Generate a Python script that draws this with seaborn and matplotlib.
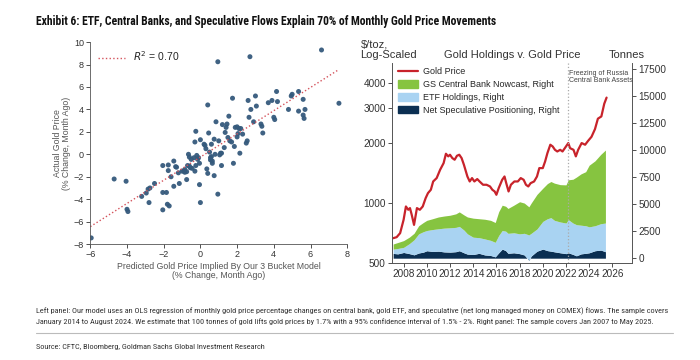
import numpy as np
import pandas as pd
import seaborn as sns
import matplotlib.pyplot as plt
from matplotlib.lines import Line2D
from matplotlib.patches import Patch

# left panel: predicted vs actual monthly % change
pred_chg = [-5.95, -4.7, -4.05, -4.0, -3.95, -3.2, -2.95, -2.85, -2.75, -2.8, -2.5, -2.05, -2.05, -1.85,
            -2.05, -1.8, -1.7, -1.75, -1.75, -1.6, -1.45, -1.35, -1.3, -1.45, -1.15, -1.2, -1.0, -0.9,
            -0.85, -0.85, -0.75, -0.7, -0.65, -0.6, -0.55, -0.5, -0.45, -0.35, -0.3, -0.25, -0.2, -0.15,
            -0.1, -0.05, -0.3, -0.25, -0.75, -0.05, 0.0, 0.0, 0.2, 0.25, 0.3, 0.35, 0.4, 0.4, 0.45, 0.5,
            0.55, 0.6, 0.65, 0.65, 0.6, 0.75, 0.75, 0.8, 0.85, 0.95, 0.95, 1.0, 1.05, 1.1, 1.15, 1.2,
            1.3, 1.35, 1.4, 1.45, 1.5, 1.55, 1.6, 1.7, 1.75, 1.8, 1.85, 1.9, 2.0, 2.05, 2.1, 2.15, 2.2,
            2.3, 2.5, 2.55, 2.6, 2.65, 2.7, 2.75, 2.9, 3.0, 3.05, 3.3, 3.35, 3.4, 3.7, 3.9, 4.0, 4.05,
            4.15, 4.2, 4.8, 4.95, 5.0, 5.35, 5.35, 5.6, 5.6, 5.65, 5.7, 6.6, 7.55, -0.6, 1.15, 0.55, 2.0]
actual_chg = [-7.45, -2.2, -2.4, -4.9, -5.1, -3.75, -3.45, -3.1, -3.0, -4.3, -2.6, -1.0, -3.4, -3.4,
              -4.95, -4.45, -4.6, -0.95, -1.45, -2.0, -0.6, -1.1, -1.15, -2.85, -2.6, -1.65, -1.5, -1.5,
              -1.35, -1.6, -1.55, -1.0, 0.0, -0.25, -1.2, -0.45, -1.25, -0.3, 1.1, 2.05, -0.1, -0.45,
              -0.3, -0.8, -1.5, -1.0, -2.25, -2.7, -4.3, 1.3, 0.9, 0.8, 0.5, -1.3, -1.7, 4.4, 1.9, 0.2,
              -0.5, -0.2, -0.6, -0.8, 0.9, 1.35, -1.9, 0.0, 2.9, 8.25, -3.55, 1.2, -0.05, 0.1, -1.0, 2.65,
              0.6, 1.95, 2.4, 2.7, 1.5, 3.4, 1.2, 1.1, 5.0, -0.8, 0.7, 2.4, 2.45, 1.85, 2.3, 0.1, 2.3,
              1.8, 1.0, 1.2, 4.8, 3.3, 8.7, 4.0, 2.9, 5.2, 4.3, 2.7, 2.5, 1.9, 4.6, 4.8, 3.3, 3.1,
              5.6, 4.7, 4.0, 5.2, 5.35, 5.6, 3.85, 4.9, 3.5, 3.2, 4.0, 9.3, 4.55, -1.05, 0.1, -0.3, 1.55]

# right panel: gold price (log scale)
price_year = [2007.1, 2007.4, 2007.7, 2008.0, 2008.2, 2008.4, 2008.55, 2008.7, 2008.9, 2009.15, 2009.4,
              2009.65, 2009.9, 2010.1, 2010.35, 2010.55, 2010.85, 2011.15, 2011.45, 2011.65, 2011.85,
              2012.0, 2012.2, 2012.4, 2012.6, 2012.8, 2013.0, 2013.2, 2013.5, 2013.7, 2013.9, 2014.1,
              2014.35, 2014.55, 2014.85, 2015.15, 2015.45, 2015.65, 2015.85, 2016.0, 2016.2, 2016.5,
              2016.7, 2016.85, 2017.05, 2017.25, 2017.55, 2017.85, 2018.1, 2018.35, 2018.55, 2018.75,
              2018.95, 2019.25, 2019.5, 2019.7, 2020.0, 2020.2, 2020.4, 2020.65, 2020.85, 2021.05,
              2021.25, 2021.5, 2021.7, 2021.9, 2022.2, 2022.35, 2022.65, 2022.85, 2023.05, 2023.35,
              2023.65, 2023.9, 2024.2, 2024.5, 2024.75, 2025.05, 2025.3, 2025.5]
gold_price = [667, 675, 707, 825, 962, 926, 944, 874, 778, 944, 926, 962, 1059, 1122, 1167, 1284, 1335,
              1470, 1587, 1768, 1715, 1748, 1682, 1650, 1727, 1748, 1682, 1557, 1360, 1284, 1335, 1284,
              1320, 1284, 1236, 1236, 1212, 1167, 1144, 1101, 1189, 1309, 1360, 1259, 1144, 1236, 1284,
              1284, 1335, 1309, 1236, 1212, 1259, 1284, 1360, 1498, 1498, 1617, 1782, 1962, 1924, 1850,
              1815, 1850, 1815, 1886, 2000, 1886, 1850, 1715, 1850, 2000, 1962, 2050, 2150, 2350, 2650,
              2720, 3150, 3380]

# right panel: holdings in tonnes
hold_year = [2007.1, 2007.5, 2008.0, 2008.5, 2008.9, 2009.3, 2009.7, 2010.0, 2010.5, 2011.0, 2011.5,
             2012.0, 2012.5, 2012.8, 2013.2, 2013.5, 2014.0, 2014.5, 2015.0, 2015.5, 2015.9, 2016.2,
             2016.5, 2016.8, 2017.0, 2017.5, 2018.0, 2018.4, 2018.8, 2019.0, 2019.5, 2020.0, 2020.4,
             2020.7, 2021.0, 2021.5, 2022.0, 2022.2, 2022.6, 2022.9, 2023.3, 2023.7, 2024.0, 2024.5,
             2025.0, 2025.4]
net_spec = [440, 400, 530, 420, 310, 480, 560, 690, 620, 650, 580, 560, 600, 690, 500, 375, 340, 450,
            300, 250, 125, 500, 840, 700, 450, 500, 420, 300, -190, 200, 650, 840, 700, 650, 590, 500,
            420, 500, 350, 220, 400, 450, 500, 690, 750, 600]
etf_hold = [400, 500, 470, 930, 1390, 1770, 1890, 1870, 2030, 2070, 2200, 2250, 2250, 2250, 2100, 1875,
            1600, 1450, 1480, 1400, 1345, 1600, 1720, 1800, 1850, 1850, 1830, 2000, 2340, 2100, 2050,
            2560, 2950, 3100, 2910, 2850, 2830, 3060, 2900, 2880, 2650, 2550, 2400, 2310, 2440, 2650]
cb_hold = [470, 550, 625, 600, 600, 750, 850, 940, 1000, 1090, 1120, 1160, 1250, 1340, 1400, 1560, 1760,
           1750, 1820, 1850, 1830, 2200, 2340, 2300, 2300, 2550, 2970, 2800, 2600, 2800, 3200, 3070,
           3250, 3340, 3440, 3450, 3530, 3690, 4050, 4400, 4750, 5000, 5700, 6000, 6410, 6750]

title = "Exhibit 6: ETF, Central Banks, and Speculative Flows Explain 70% of Monthly Gold Price Movements"
note = ("Left panel: Our model uses an OLS regression of monthly gold price percentage changes on central bank, gold ETF, "
        "and speculative (net long managed money on COMEX) flows. The sample covers\n"
        "January 2014 to August 2024. We estimate that 100 tonnes of gold lifts gold prices by 1.7% with a 95% "
        "confidence interval of 1.5% - 2%. Right panel: The sample covers Jan 2007 to May 2025.")
source = "Source: CFTC, Bloomberg, Goldman Sachs Global Investment Research"

sns.set_style("ticks")
plt.rcParams['font.family'] = ['Liberation Sans', 'DejaVu Sans']
narrow = ['Roboto Condensed', 'Liberation Sans Narrow', 'Liberation Sans']
txt = '#333333'

fig = plt.figure(figsize=(7, 3.6), dpi=100)
t_title = fig.text(0.051, 0.93, title, fontsize=9.6, fontweight='bold', family=narrow, color='#111111')

# ---- left panel
ax1 = fig.add_axes([0.129, 0.322, 0.367, 0.561])
scat = pd.DataFrame({'pred': pred_chg, 'actual': actual_chg})
sns.scatterplot(data=scat, x='pred', y='actual', ax=ax1, color='#355a7c', s=13, edgecolor='none', alpha=0.95)
slope, icpt = np.polyfit(scat['pred'], scat['actual'], 1)
fx = np.array([-6, 7.55])
ax1.plot(fx, slope * fx + icpt, ls=':', color='#d4535c', lw=1.0)
ax1.legend(handles=[Line2D([], [], ls=':', color='#d4535c', lw=1.0)], labels=['$R^2$ = 0.70'],
           loc='upper left', frameon=False, fontsize=7.5, handlelength=2.6, borderaxespad=0.3)
ax1.set_xlim(-6, 8)
ax1.set_ylim(-8, 10)
ax1.set_xticks(range(-6, 9, 2))
ax1.set_yticks(range(-8, 11, 2))
ax1.set_xlabel("Predicted Gold Price Implied By Our 3 Bucket Model\n(% Change, Month Ago)", fontsize=6.3,
               color='#555555', labelpad=2, linespacing=1.0)
ax1.set_ylabel("Actual Gold Price\n(% Change, Month Ago)", fontsize=6.3, color='#555555', labelpad=2, linespacing=1.0)
ax1.tick_params(labelsize=6.5, colors=txt, length=3, width=0.6, pad=1.5)
for s in ['left', 'bottom']:
    ax1.spines[s].set_color('#555555')
    ax1.spines[s].set_linewidth(0.6)
sns.despine(ax=ax1)

# ---- right panel
ax2 = fig.add_axes([0.56, 0.269, 0.343, 0.556])
ax3 = ax2.twinx()
ax2.set_zorder(ax3.get_zorder() + 1)
ax2.patch.set_visible(False)

ax3.stackplot(hold_year, net_spec, etf_hold, cb_hold, colors=['#0b2f52', '#a9d3f2', '#86c440'], lw=0)
sns.lineplot(x=price_year, y=gold_price, ax=ax2, color='#c8232b', lw=1.6)
ax2.set_yscale('log')
ax2.set_ylim(500, 5040)
ax2.set_yticks([500, 1000, 2000, 3000, 4000])
ax2.set_yticklabels(['500', '1000', '2000', '3000', '4000'])
ax2.minorticks_off()
ax3.set_ylim(-460, 18050)
ax3.set_yticks(range(0, 17501, 2500))
ax2.set_xlim(2007, 2027.7)
ax2.set_xticks(range(2008, 2027, 2))
ax2.axvline(2022.15, color='#aaaaaa', ls=':', lw=0.9)
ax2.text(2022.25, 4650, "Freezing of Russia\nCentral Bank Assets", fontsize=5, color='#444444', va='top', linespacing=1.0)

for a in (ax2, ax3):
    a.tick_params(labelsize=7.2, colors=txt, length=3, width=0.6, pad=1.5)
    a.spines['top'].set_visible(False)
    for s in ['left', 'right', 'bottom']:
        a.spines[s].set_color('#555555')
        a.spines[s].set_linewidth(0.6)

handles = [Line2D([], [], color='#c8232b', lw=1.6), Patch(color='#86c440'), Patch(color='#a9d3f2'), Patch(color='#0b2f52')]
labels = ['Gold Price', 'GS Central Bank Nowcast, Right', 'ETF Holdings, Right', 'Net Speculative Positioning, Right']
ax2.legend(handles, labels, loc='upper left', frameon=False, fontsize=6.5, handlelength=2.2, handleheight=0.95,
           handletextpad=0.5, labelspacing=0.42, borderaxespad=0.3, bbox_to_anchor=(0.0, 1.01))

fig.text(0.515, 0.838, "$/toz,\nLog-Scaled", fontsize=8, color=txt, linespacing=1.1)
fig.text(0.732, 0.84, "Gold Holdings v. Gold Price", fontsize=8, color=txt, ha='center')
fig.text(0.896, 0.84, "Tonnes", fontsize=8, color=txt, ha='center')

# ---- footer
t_note = fig.text(0.051, 0.1, note, fontsize=5.6, family=narrow, color='#333333', linespacing=1.55)
fig.add_artist(Line2D([0.051, 0.962], [0.075, 0.075], color='#bbbbbb', lw=0.8))
t_src = fig.text(0.051, 0.03, source, fontsize=5.6, family=narrow, color='#333333')

# shrink the long texts so they span the same width as in the reference
fig.canvas.draw()
rend = fig.canvas.get_renderer()
for t, target in [(t_title, 466), (t_note, 631)]:
    w = t.get_window_extent(rend).width
    t.set_fontsize(t.get_fontsize() * target / w)
t_src.set_fontsize(t_note.get_fontsize())

fig.savefig('out.png', dpi=100)
